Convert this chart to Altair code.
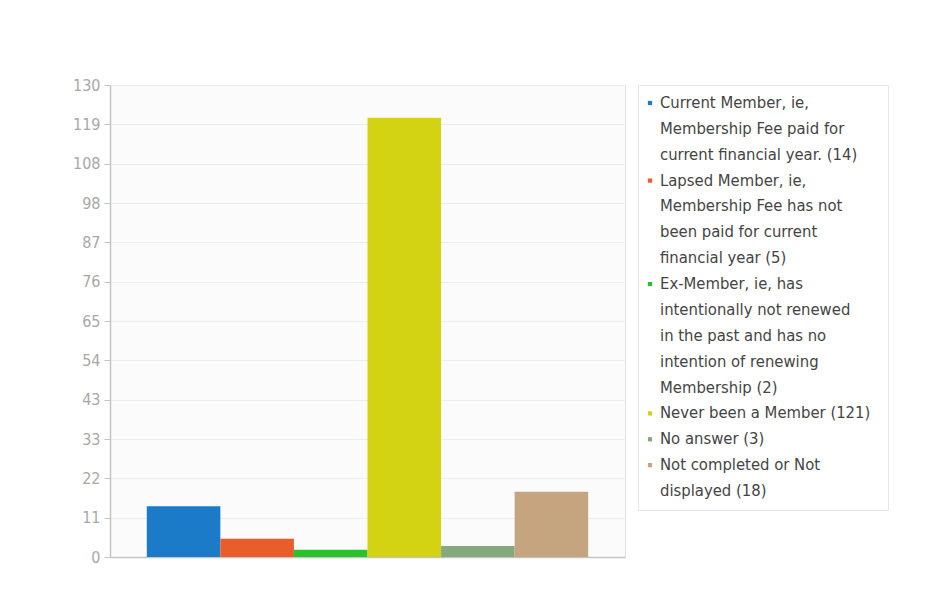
import altair as alt
import pandas as pd

categories = [
    "Current Member, ie, Membership Fee paid for current financial year.",
    "Lapsed Member, ie, Membership Fee has not been paid for current financial year",
    "Ex-Member, ie, has intentionally not renewed in the past and has no intention of renewing Membership",
    "Never been a Member",
    "No answer",
    "Not completed or Not displayed",
]
counts = [14, 5, 2, 121, 3, 18]
colors = ["#1b7bc9", "#e95d2a", "#2ac22a", "#d3d314", "#85a87e", "#c5a57f"]
legend_lines = [
    ["Current Member, ie,", "Membership Fee paid for", "current financial year. (14)"],
    ["Lapsed Member, ie,", "Membership Fee has not", "been paid for current", "financial year (5)"],
    ["Ex-Member, ie, has", "intentionally not renewed", "in the past and has no",
     "intention of renewing", "Membership (2)"],
    ["Never been a Member (121)"],
    ["No answer (3)"],
    ["Not completed or Not", "displayed (18)"],
]
y_max = 130
y_ticks = [i * y_max / 12 for i in range(13)]

bars_df = pd.DataFrame({"category": categories, "count": counts})

rows = []
idx = 0
for cat, lines in zip(categories, legend_lines):
    for j, t in enumerate(lines):
        rows.append({"category": cat, "line": idx, "text": t, "first": j == 0})
        idx += 1
leg_df = pd.DataFrame(rows)

FONT = "DejaVu Sans Condensed"
color_scale = alt.Scale(domain=categories, range=colors)

bars = alt.Chart(bars_df).mark_bar().encode(
    x=alt.X("category:N", sort=categories,
            scale=alt.Scale(paddingInner=0, paddingOuter=0.5),
            axis=alt.Axis(labels=False, ticks=False, title=None, grid=False,
                          domainColor="#c4c4c4", domainWidth=1.5)),
    y=alt.Y("count:Q", scale=alt.Scale(domain=[0, y_max], nice=False),
            axis=alt.Axis(values=y_ticks, labelExpr="format(round(datum.value), 'd')",
                          title=None, domainColor="#c4c4c4", domainWidth=1.5,
                          tickColor="#c4c4c4", tickSize=6, labelColor="#a8a8a8",
                          labelFont=FONT, labelFontSize=16, labelPadding=4,
                          grid=True, gridColor="#ececec")),
    color=alt.Color("category:N", scale=color_scale, legend=None),
).properties(width=515, height=472,
             view=alt.ViewBackground(fill="#fbfbfb", stroke="#e2e2e2"))

ly = alt.Y("line:Q", scale=alt.Scale(domain=[0, len(leg_df) - 1], range=[18, 406]), axis=None)

sym = alt.Chart(leg_df).transform_filter("datum.first").mark_square(size=18, opacity=1).encode(
    x=alt.value(12), y=ly,
    color=alt.Color("category:N", scale=color_scale, legend=None),
)
txt = alt.Chart(leg_df).mark_text(align="left", baseline="middle", font=FONT,
                                   fontSize=16.5, color="#444444").encode(
    x=alt.value(22), y=ly, text="text:N",
)
legend = alt.layer(sym, txt).properties(
    width=250, height=425,
    view=alt.ViewBackground(fill="white", stroke="#e6e6e6"))

chart = alt.hconcat(bars, legend, spacing=13, bounds="flush").resolve_scale(
    x="independent", y="independent"
).properties(
    padding={"left": 64, "top": 68, "right": 5, "bottom": 5},
    background="white",
).configure(font=FONT)

chart.save("out.html", embed_options={"renderer": "svg", "actions": False})
